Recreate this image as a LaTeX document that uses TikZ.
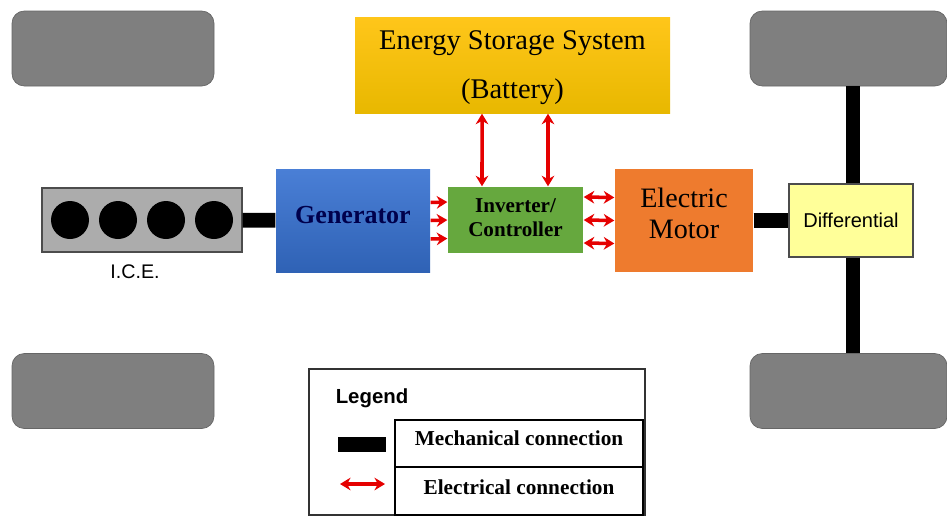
\documentclass[tikz,border=0pt]{standalone}
\usepackage{fontspec}
\setmainfont{Liberation Serif}
\newfontfamily\labelfont{Liberation Sans}
\usetikzlibrary{arrows.meta}
\definecolor{wheelgray}{HTML}{7F7F7F}
\definecolor{batterytop}{HTML}{FFC61A}
\definecolor{batterybot}{HTML}{E8B800}
\definecolor{gentop}{HTML}{4A7FD6}
\definecolor{genbot}{HTML}{2F62B5}
\definecolor{invgreen}{HTML}{66A83E}
\definecolor{motororange}{HTML}{EE7B2E}
\definecolor{diffyellow}{HTML}{FFFF99}
\begin{document}
\begin{tikzpicture}[>={Stealth[length=3pt,width=3.6pt]},
		block/.style={inner sep=0pt, align=center, text=black},
		wheel/.style={rectangle, rounded corners=3.5pt, fill=wheelgray, draw=gray!80!black, line width=0.2pt, minimum width=2.02cm, minimum height=0.75cm},
		cylinder/.style={circle, fill=black, inner sep=0pt, minimum size=0.38cm},
		mech/.style={line width=4.2pt, black},
		elec/.style={<->, line width=1pt, red!90!black},
		cell/.style={draw=black, line width=0.5pt, inner sep=0pt, minimum width=2.48cm, font=\fontsize{6.05}{7}\selectfont\bfseries}]
		\useasboundingbox (0,0) rectangle (9.47,5.16);
		% wheels
		\node (wheel_fl) [wheel] at (1.13,4.675) {};
		\node (wheel_rl) [wheel] at (1.13,1.25) {};
		\node (wheel_fr) [wheel, minimum width=1.97cm] at (8.485,4.675) {};
		\node (wheel_rr) [wheel, minimum width=1.97cm] at (8.485,1.25) {};
		% blocks
		\node (battery) [block, minimum width=3.15cm, minimum height=0.96cm, top color=batterytop, bottom color=batterybot, text height=20.9pt, font=\fontsize{8.1}{13.9}\selectfont] at (5.125,4.51) {Energy Storage System\\(Battery)};
		\node (engine) [block, draw=black!70, line width=0.4pt, fill=gray!65, minimum width=2cm, minimum height=0.64cm] at (1.42,2.96) {};
		\node (generator) [block, minimum width=1.54cm, minimum height=1.03cm, top color=gentop, bottom color=genbot, text=black!70!blue, font=\fontsize{7.4}{8}\selectfont\bfseries] at (3.53,2.955) {\raisebox{3pt}{Generator}};
		\node (inverter) [block, minimum width=1.35cm, minimum height=0.66cm, fill=invgreen, text depth=1.4pt, font=\fontsize{6}{6.8}\selectfont\bfseries] at (5.155,2.96) {Inverter/\\Controller};
		\node (motor) [block, minimum width=1.38cm, minimum height=1.03cm, fill=motororange, text depth=4pt, font=\fontsize{8}{8.8}\selectfont] at (6.84,2.955) {Electric\\Motor};
		\node (differential) [block, draw=black!70, line width=0.4pt, fill=diffyellow, minimum width=1.24cm, minimum height=0.73cm, font=\labelfont\fontsize{5.7}{6}\selectfont] at (8.51,2.955) {Differential};
		% engine
		\node (cyl_a) [cylinder] at (0.70,2.96) {};
		\node (cyl_b) [cylinder] at (1.18,2.96) {};
		\node (cyl_c) [cylinder] at (1.66,2.96) {};
		\node (cyl_d) [cylinder] at (2.14,2.96) {};
		\node (ice) [inner sep=0pt, font=\labelfont\fontsize{5.6}{6}\selectfont] at (1.35,2.44) {I.C.E.};
		% mechanical connections
		\draw[mech] (engine) -- (generator);
		\draw[mech] (motor) -- (differential);
		\draw[mech] ([xshift=0.045cm]wheel_fr.south) -- ([xshift=0.02cm]differential.north);
		\draw[mech] ([xshift=0.02cm]differential.south) -- ([xshift=0.045cm]wheel_rr.north);
		% electrical connections
		\draw[elec] ([xshift=-0.305cm]battery.south) -- ([xshift=-0.335cm]inverter.north);
		\draw[elec] ([xshift=0.355cm]battery.south) -- ([xshift=0.325cm]inverter.north);
		\draw[elec, ->] ([yshift=0.18cm]generator.east) -- ([yshift=0.18cm]inverter.west);
		\draw[elec, ->] (generator.east) -- (inverter.west);
		\draw[elec, ->] ([yshift=-0.185cm]generator.east) -- ([yshift=-0.185cm]inverter.west);
		\draw[elec] ([yshift=0.23cm]inverter.east) -- ([yshift=0.23cm]motor.west);
		\draw[elec] (inverter.east) -- (motor.west);
		\draw[elec] ([yshift=-0.23cm]inverter.east) -- ([yshift=-0.23cm]motor.west);
		% legend
		\node (legend) [draw=black!80, line width=0.5pt, minimum width=3.36cm, minimum height=1.46cm, inner sep=0pt] at (4.77,0.74) {};
		\node (legend_title) [inner sep=0pt, font=\labelfont\bfseries\fontsize{5.8}{6}\selectfont] at (3.72,1.18) {Legend};
		\node (mech_label) [cell, minimum height=0.47cm] at (5.19,0.725) {\raisebox{2.8pt}{Mechanical connection}};
		\node (elec_label) [cell, minimum height=0.48cm] at (5.19,0.25) {\raisebox{2pt}{Electrical connection}};
		\coordinate (mech_a) at (3.38,0.715);
		\coordinate (mech_b) at (3.86,0.715);
		\coordinate (elec_a) at (3.40,0.32);
		\coordinate (elec_b) at (3.85,0.32);
		\draw[mech] (mech_a) -- (mech_b);
		\draw[elec] (elec_a) -- (elec_b);
	\end{tikzpicture}
\end{document}
